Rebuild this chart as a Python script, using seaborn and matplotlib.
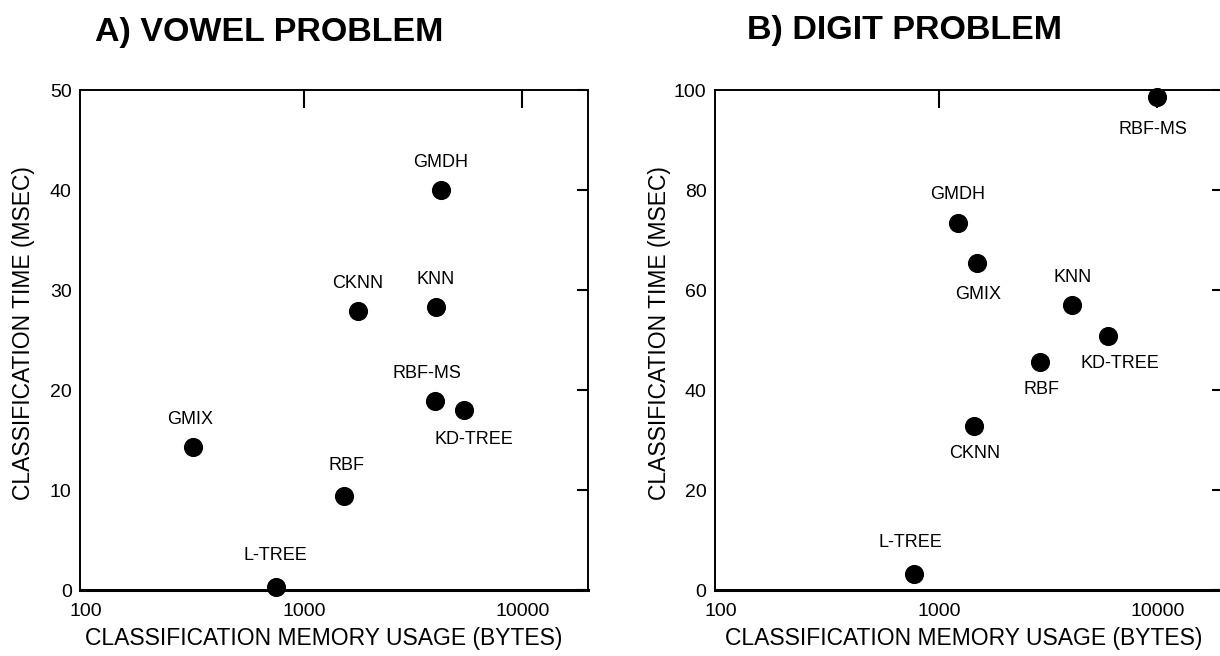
import matplotlib
matplotlib.use("Agg")
import matplotlib.pyplot as plt
import seaborn as sns
import pandas as pd

# Dados
vowel_methods = ["GMDH", "CKNN", "KNN", "RBF-MS", "KD-TREE", "GMIX", "RBF", "L-TREE"]
vowel_memory = [4230, 1765, 4010, 3980, 5430, 310, 1520, 747]
vowel_time = [40.0, 27.9, 28.3, 18.9, 18.0, 14.3, 9.4, 0.3]

digit_methods = ["RBF-MS", "GMDH", "GMIX", "KNN", "KD-TREE", "RBF", "CKNN", "L-TREE"]
digit_memory = [10000, 1218, 1489, 4075, 5970, 2896, 1443, 770]
digit_time = [98.7, 73.5, 65.5, 57.0, 50.8, 45.6, 32.8, 3.3]

x_ticks = [100, 1000, 10000]
x_tick_labels = ["100", "1000", "10000"]
vowel_y_ticks = [0, 10, 20, 30, 40, 50]
digit_y_ticks = [0, 20, 40, 60, 80, 100]

# posição dos rótulos (dx, dy em pontos)
vowel_offsets = {"GMDH": (0, 20), "CKNN": (0, 20), "KNN": (0, 20), "RBF-MS": (-6, 20),
                 "KD-TREE": (7, -21), "GMIX": (-2, 20), "RBF": (2, 22), "L-TREE": (-1, 23)}
digit_offsets = {"RBF-MS": (-3, -24), "GMDH": (0, 20), "GMIX": (1, -23), "KNN": (0, 20),
                 "KD-TREE": (8, -20), "RBF": (1, -20), "CKNN": (1, -20), "L-TREE": (-3, 22)}

sns.set_style("white")
plt.rcParams['font.family'] = ['Liberation Sans', 'DejaVu Sans']
plt.rcParams['text.color'] = 'black'
plt.rcParams['axes.labelcolor'] = 'black'
plt.rcParams['xtick.color'] = 'black'
plt.rcParams['ytick.color'] = 'black'

fig = plt.figure(figsize=(12.2, 6.56), dpi=100)
ax1 = fig.add_axes([0.0656, 0.1006, 0.4164, 0.762])
ax2 = fig.add_axes([0.586, 0.1006, 0.4164, 0.762])


def draw_panel(ax, methods, memory, time, offsets, y_ticks, ymax, ylab_x, xlab_x):
    df = pd.DataFrame({'method': methods, 'memory': memory, 'time': time})
    sns.scatterplot(data=df, x='memory', y='time', ax=ax, color='black', s=190,
                    edgecolor='black', linewidth=0, clip_on=False, zorder=5)
    for m, xv, yv in zip(methods, memory, time):
        dx, dy = offsets[m]
        ax.annotate(m, (xv, yv), xytext=(dx, dy), textcoords='offset points',
                    ha='center', va='center', fontsize=13)
    ax.set_xscale('log')
    ax.set_xlim(94, 20000)
    ax.set_ylim(0, ymax)
    ax.set_xticks(x_ticks)
    ax.set_xticklabels(x_tick_labels)
    ax.minorticks_off()
    ax.set_yticks(y_ticks)
    ax.tick_params(axis='x', direction='in', length=13, width=1.5, top=True,
                   labelsize=14, pad=9)
    ax.tick_params(axis='y', direction='in', length=8, width=1.5, right=True,
                   labelsize=14, pad=6)
    # sem marca no 100 (só o rótulo)
    t100 = ax.xaxis.get_major_ticks()[0]
    t100.tick1line.set_visible(False)
    t100.tick2line.set_visible(False)
    for side in ['top', 'left', 'right']:
        ax.spines[side].set_linewidth(1.4)
        ax.spines[side].set_color('black')
    ax.spines['bottom'].set_linewidth(2.2)
    ax.spines['bottom'].set_color('black')
    ax.set_xlabel('CLASSIFICATION MEMORY USAGE (BYTES)', fontsize=16.5)
    ax.set_ylabel('CLASSIFICATION TIME (MSEC)', fontsize=16.5)
    ax.xaxis.set_label_coords(xlab_x, -0.075)
    ax.yaxis.set_label_coords(ylab_x, 0.515)


draw_panel(ax1, vowel_methods, vowel_memory, vowel_time, vowel_offsets, vowel_y_ticks, 50,
           -0.088, 0.48)
draw_panel(ax2, digit_methods, digit_memory, digit_time, digit_offsets, digit_y_ticks, 100,
           -0.087, 0.49)

fig.text(0.078, 0.951, 'A) VOWEL PROBLEM', fontsize=24.5, fontweight='bold', va='center')
fig.text(0.612, 0.953, 'B) DIGIT PROBLEM', fontsize=24.5, fontweight='bold', va='center')

fig.savefig('out.png', dpi=100)
